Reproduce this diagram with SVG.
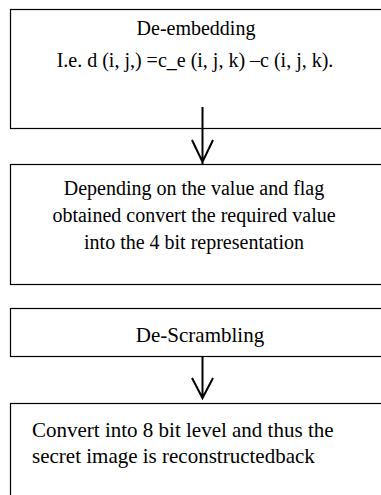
<svg xmlns="http://www.w3.org/2000/svg" width="381" height="495" viewBox="0 0 381 495">
<style>
.box{fill:#fff;stroke:#000;stroke-width:1.2}
.t{font-family:"Liberation Serif","Times New Roman",serif;font-size:20px;fill:#000}
.b{font-size:21px}
.c{text-anchor:middle}
.ar{fill:none;stroke:#000;stroke-width:2}
</style>
<rect width="381" height="495" fill="#fff"/>
<g id="n1"><rect class="box" x="10.5" y="9.5" width="385" height="119"/>
<text class="t c" x="196" y="35">De-embedding</text>
<text class="t c" x="195" y="67">I.e. d (i, j,) =c_e (i, j, k) –c (i, j, k).</text></g>
<g id="n2"><rect class="box" x="10.5" y="164.5" width="385" height="120"/>
<text class="t c" x="194" y="195">Depending on the value and flag</text>
<text class="t c" x="194" y="222">obtained convert the required value</text>
<text class="t c" x="194" y="249">into the 4 bit representation</text></g>
<g id="n3"><rect class="box" x="10.5" y="308.5" width="385" height="48"/>
<text class="t b c" x="200" y="342">De-Scrambling</text></g>
<g id="n4"><rect class="box" x="10.5" y="403.5" width="385" height="100"/>
<text class="t b" x="32" y="437">Convert into 8 bit level and thus the</text>
<text class="t b" x="32" y="463">secret image is reconstructedback</text></g>
<g id="edges">
<path class="ar" d="M202.5 107V164M192 140L202.5 162L213 140"/>
<path class="ar" d="M202.5 357V398M192 378L202.5 398L213 378"/>
</g>
</svg>
